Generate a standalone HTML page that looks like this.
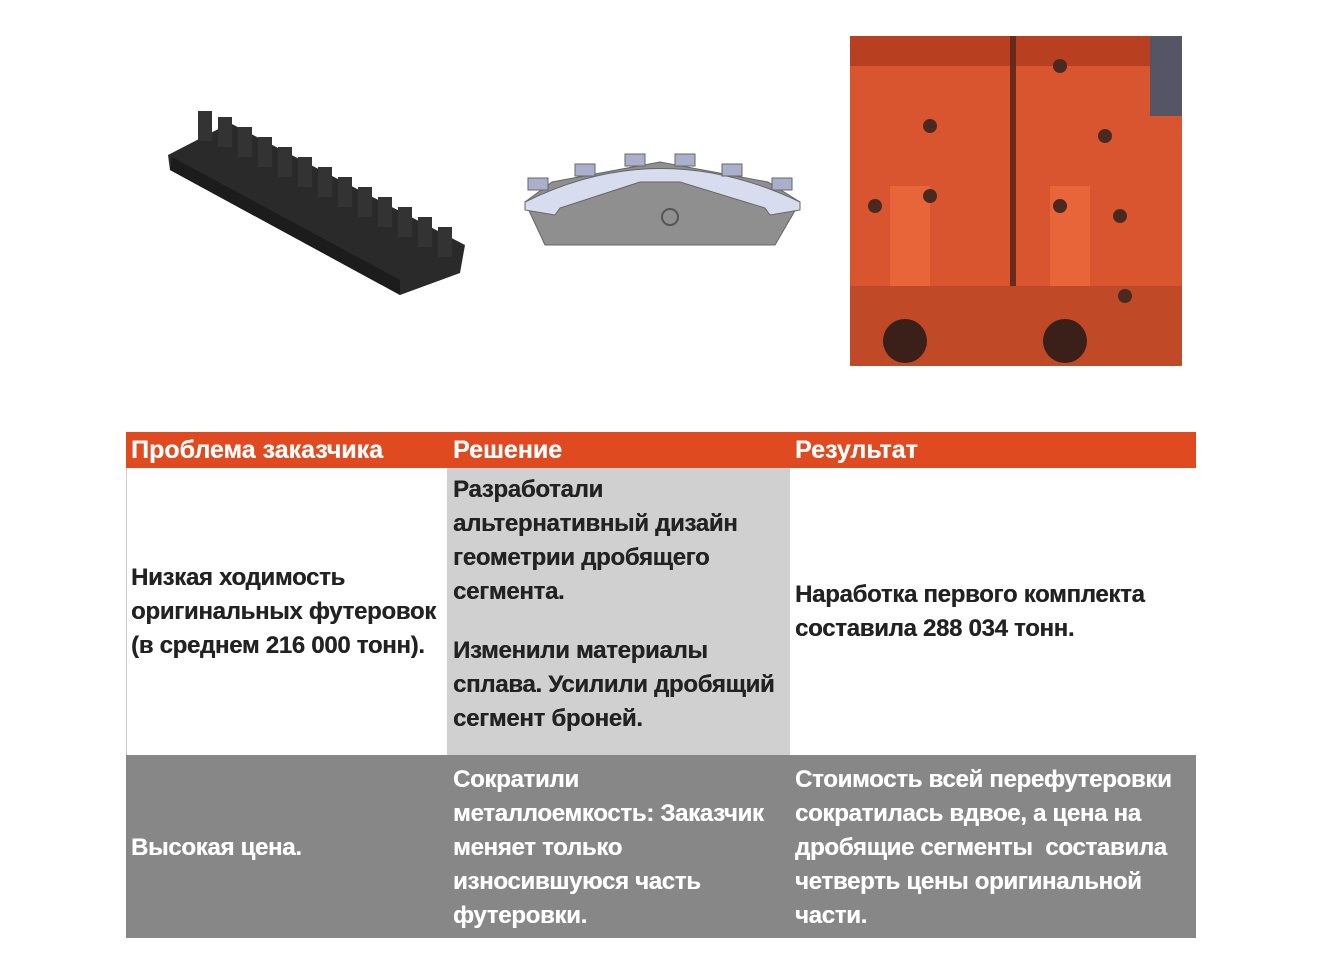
<!DOCTYPE html>
<html><head><meta charset="utf-8"><style>
body{margin:0;width:1320px;height:964px;background:#fff;position:relative;overflow:hidden;font-family:"Liberation Sans",sans-serif;}
.t{position:absolute;font-weight:bold;font-size:24px;line-height:34px;color:#222;white-space:nowrap;letter-spacing:-0.3px;text-shadow:0.3px 0 0 currentColor}
.h{font-size:25px;letter-spacing:0}
.w{color:#fff}
.bx{position:absolute}
</style></head><body>
<!-- rack image -->
<svg class="bx" style="left:160px;top:105px" width="310" height="195">
<polygon points="8,50 70,18 305,140 300,168 240,190 10,65" fill="#2a2a2a"/>
<polygon points="10,65 240,190 240,175 12,52" fill="#1c1c1c"/>
<g fill="#333">
<rect x="38" y="6" width="14" height="30"/><rect x="58" y="12" width="14" height="30"/><rect x="78" y="22" width="14" height="30"/><rect x="98" y="32" width="14" height="30"/><rect x="118" y="42" width="14" height="30"/><rect x="138" y="52" width="14" height="30"/><rect x="158" y="62" width="14" height="30"/><rect x="178" y="72" width="14" height="30"/><rect x="198" y="82" width="14" height="30"/><rect x="218" y="92" width="14" height="30"/><rect x="238" y="102" width="14" height="30"/><rect x="258" y="112" width="14" height="30"/><rect x="278" y="122" width="14" height="30"/>
</g>
</svg>
<!-- segment -->
<svg class="bx" style="left:500px;top:140px" width="320" height="120">
<polygon points="25,62 45,105 275,105 300,62 268,42 160,22 52,42" fill="#8f8f8f" stroke="#666"/>
<path d="M25,62 Q160,-5 300,62 L300,70 L270,75 L265,68 L180,42 L140,42 L60,68 L55,75 L25,70Z" fill="#d8dcef" stroke="#666"/>
<g fill="#aab0cc" stroke="#666"><rect x="28" y="38" width="20" height="12"/><rect x="75" y="24" width="20" height="12"/><rect x="125" y="14" width="20" height="12"/><rect x="175" y="14" width="20" height="12"/><rect x="222" y="24" width="20" height="12"/><rect x="272" y="38" width="20" height="12"/></g>
<circle cx="170" cy="77" r="8" fill="none" stroke="#555" stroke-width="2"/>
</svg>
<!-- photo -->
<svg class="bx" style="left:850px;top:36px" width="332" height="330">
<rect width="332" height="330" fill="#d9552f"/>
<rect x="0" y="0" width="332" height="30" fill="#b84020"/>
<rect x="160" y="0" width="6" height="330" fill="#6a2a18"/>
<rect x="40" y="150" width="40" height="180" fill="#e8653a"/>
<rect x="200" y="150" width="40" height="180" fill="#e8653a"/>
<rect x="0" y="250" width="332" height="80" fill="#c04a28"/>
<circle cx="55" cy="305" r="22" fill="#3a2018"/><circle cx="215" cy="305" r="22" fill="#3a2018"/>
<g fill="#4a2a20"><circle cx="80" cy="90" r="7"/><circle cx="210" cy="30" r="7"/><circle cx="255" cy="100" r="7"/><circle cx="80" cy="160" r="7"/><circle cx="210" cy="170" r="7"/><circle cx="270" cy="180" r="7"/><circle cx="275" cy="260" r="7"/><circle cx="25" cy="170" r="7"/></g>
<rect x="300" y="0" width="32" height="80" fill="#556"/>
</svg>
<!-- table -->
<div class="bx" style="left:126px;top:432px;width:1070px;height:36px;background:#e04a20"></div>
<div class="bx" style="left:447px;top:468px;width:343px;height:287px;background:#d0d0d0"></div>
<div class="bx" style="left:126px;top:468px;width:1px;height:287px;background:#ccc"></div>
<div class="bx" style="left:126px;top:755px;width:1070px;height:183px;background:#878787"></div>
<div class="t w h" style="left:131px;top:433px">Проблема заказчика</div>
<div class="t w h" style="left:453px;top:433px">Решение</div>
<div class="t w h" style="left:795px;top:433px">Результат</div>
<div class="t" style="left:453px;top:473px">Разработали<br>альтернативный дизайн<br>геометрии дробящего<br>сегмента.</div>
<div class="t" style="left:453px;top:634px">Изменили материалы<br>сплава. Усилили дробящий<br>сегмент броней.</div>
<div class="t" style="left:131px;top:561px">Низкая ходимость<br>оригинальных футеровок<br>(в среднем 216 000 тонн).</div>
<div class="t" style="left:795px;top:578px">Наработка первого комплекта<br>составила 288 034 тонн.</div>
<div class="t w" style="left:131px;top:831px">Высокая цена.</div>
<div class="t w" style="left:453px;top:763px">Сократили<br>металлоемкость: Заказчик<br>меняет только<br>износившуюся часть<br>футеровки.</div>
<div class="t w" style="left:795px;top:763px">Стоимость всей перефутеровки<br>сократилась вдвое, а цена на<br>дробящие сегменты&nbsp; составила<br>четверть цены оригинальной<br>части.</div>
</body></html>
